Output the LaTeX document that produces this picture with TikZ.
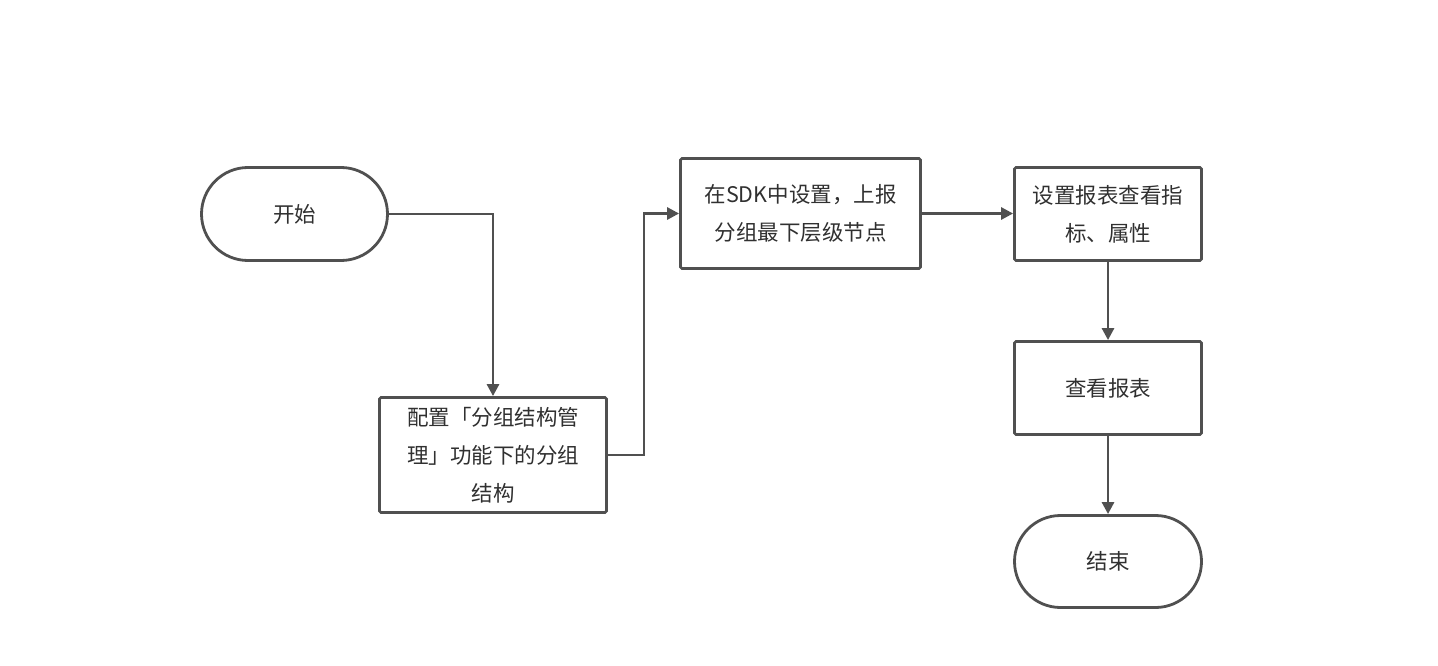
\documentclass[tikz,border=0pt]{standalone}
\usepackage{fontspec}
\setmainfont{Noto Sans CJK SC}
\usepackage{tikz}
\usetikzlibrary{arrows.meta, positioning, shapes.misc}
\definecolor{flowline}{RGB}{80, 80, 80}
\definecolor{flowtext}{RGB}{48, 48, 48}

\tikzset{
    procbox/.style={draw=flowline, line width=2.8pt, rectangle, rounded corners=1.5pt,
        inner sep=0pt, align=center, text=flowtext,
        font=\fontsize{21.5}{38}\selectfont},
    termbox/.style={draw=flowline, line width=2.8pt, rounded rectangle,
        inner sep=0pt, align=center, text=flowtext,
        font=\fontsize{21.5}{38}\selectfont},
    flowarrow/.style={draw=flowline, line width=2.8pt,
        -{Triangle[length=12pt, width=12pt]}}
}

\begin{document}
\begin{tikzpicture}[x=1pt, y=-1pt]
    \useasboundingbox (0,0) rectangle (1438,666);
    \node[termbox, minimum width=186pt, minimum height=93pt] (start) at (294.5, 214) {开始};
    \node[procbox, minimum width=227pt, minimum height=115pt] (config) at (493, 455)
        {配置「分组结构管\\理」功能下的分组\\结构};
    \node[procbox, minimum width=240pt, minimum height=110pt] (sdk) at (800.5, 213.5)
        {在SDK中设置，上报\\分组最下层级节点};
    \node[procbox, minimum width=187pt, minimum height=93pt] (setrep) at (1108, 214)
        {设置报表查看指\\标、属性};
    \node[procbox, minimum width=187pt, minimum height=93pt] (view) at (1108, 388) {查看报表};
    \node[termbox, minimum width=187pt, minimum height=92pt] (finish) at (1108, 561.5) {结束};

    \draw[flowarrow] (start.east) -| (config.north);
    \draw[flowarrow] (config.east) -- ++(36,0) |- (sdk.west);
    \draw[flowarrow] (sdk.east) -- (sdk.east -| setrep.west);
    \draw[flowarrow] (setrep.south) -- (view.north);
    \draw[flowarrow] (view.south) -- (finish.north);
\end{tikzpicture}
\end{document}
